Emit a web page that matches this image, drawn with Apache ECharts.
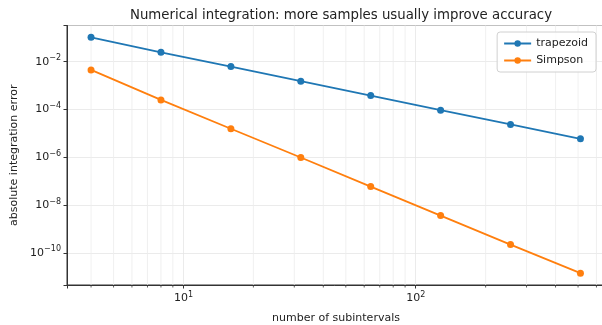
<!DOCTYPE html>
<html>
<head>
<meta charset="utf-8">
<script src="https://cdn.jsdelivr.net/npm/echarts@6/dist/echarts.min.js"></script>
<style>
  html, body { margin: 0; padding: 0; background: #fff; }
  #chart { width: 602px; height: 325px; }
</style>
</head>
<body>
<div id="chart"></div>
<script>
// data
const subintervals = [4, 8, 16, 32, 64, 128, 256, 512];
const trapezoidErr = [1.05e-1, 2.47e-2, 6.2e-3, 1.52e-3, 3.8e-4, 9.3e-5, 2.35e-5, 5.9e-6];
const simpsonErr = [4.5e-3, 2.5e-4, 1.55e-5, 9.7e-7, 5.9e-8, 3.6e-9, 2.2e-10, 1.4e-11];
// minor x ticks (log axis, 2..9 per decade)
const xMinorTicks = [4, 5, 6, 7, 8, 9, 20, 30, 40, 50, 60, 70, 80, 90, 200, 300, 400, 500, 600];

const X_MIN = Math.pow(10, 0.4985);
const X_MAX = Math.pow(10, 2.815);
const Y_MIN = Math.pow(10, -11.35);
const Y_MAX = Math.pow(10, -0.486);

const FONT = "DejaVu Sans";
const sup = (v) => {
  const e = Math.log10(v);
  if (Math.abs(e - Math.round(e)) > 1e-6) return "";
  const n = Math.round(e);
  return "10{s|" + (n < 0 ? "\u2212" + (-n) : n) + "}";
};
const rich = { s: { fontSize: 8, fontFamily: FONT, color: "#222", verticalAlign: "bottom", padding: [0, 0, 7, 0] } };

const chart = echarts.init(document.getElementById("chart"));
chart.setOption({
  animation: false,
  textStyle: { fontFamily: FONT },
  title: {
    text: "Numerical integration: more samples usually improve accuracy",
    left: 336, top: 4, textAlign: "center",
    textStyle: { fontFamily: FONT, fontSize: 13.3, fontWeight: "normal", color: "#222" },
  },
  legend: {
    data: ["trapezoid", "Simpson"],
    orient: "vertical",
    right: 6, top: 32,
    itemWidth: 27, itemHeight: 8, itemGap: 6,
    padding: [6, 8, 6, 6],
    borderColor: "#d0d0d0", borderWidth: 1, borderRadius: 3,
    backgroundColor: "rgba(255,255,255,0.85)",
    textStyle: { fontFamily: FONT, fontSize: 11, color: "#222" },
  },
  grid: {
    left: 67, top: 25.5, right: -3, bottom: 40,
    outerBoundsMode: "none",
    show: true, borderColor: "#333", borderWidth: 1,
  },
  xAxis: {
    type: "log", logBase: 10, min: X_MIN, max: X_MAX,
    name: "number of subintervals", nameLocation: "middle", nameGap: 28,
    nameTextStyle: { fontFamily: FONT, fontSize: 11, color: "#222" },
    axisLine: { lineStyle: { color: "#333" } },
    axisTick: { length: 3.5, lineStyle: { color: "#333" } },
    axisLabel: { formatter: sup, rich, fontFamily: FONT, fontSize: 11, color: "#222", margin: 6 },
    splitLine: { show: true, lineStyle: { color: "#e6e6e6", width: 0.8 } },
  },
  yAxis: {
    type: "log", logBase: 100, min: Y_MIN, max: Y_MAX,
    name: "absolute integration error", nameLocation: "middle", nameGap: 47,
    nameTextStyle: { fontFamily: FONT, fontSize: 11, color: "#222" },
    axisLine: { show: true, lineStyle: { color: "#333" } },
    axisTick: { show: true, length: 3.5, lineStyle: { color: "#333" } },
    axisLabel: { formatter: sup, rich, fontFamily: FONT, fontSize: 11, color: "#222", margin: 6 },
    splitLine: { show: true, lineStyle: { color: "#e6e6e6", width: 0.8 } },
  },
  series: [
    {
      name: "minor",
      type: "custom",
      silent: true,
      z: 1,
      data: xMinorTicks.map((x) => [x, Y_MIN]),
      renderItem: (params, api) => {
        const top = api.coord([api.value(0), Y_MAX]);
        const bot = api.coord([api.value(0), Y_MIN]);
        return {
          type: "group",
          children: [
            { type: "line", shape: { x1: top[0], y1: top[1], x2: bot[0], y2: bot[1] },
              style: { stroke: "#ececec", lineWidth: 0.8 } },
            { type: "line", shape: { x1: bot[0], y1: bot[1], x2: bot[0], y2: bot[1] + 2.5 },
              style: { stroke: "#333", lineWidth: 0.8 } },
          ],
        };
      },
    },
    {
      name: "trapezoid",
      type: "line",
      data: subintervals.map((n, i) => [n, trapezoidErr[i]]),
      symbol: "circle", symbolSize: 7,
      lineStyle: { color: "#1f77b4", width: 1.8 },
      itemStyle: { color: "#1f77b4" },
      z: 3,
    },
    {
      name: "Simpson",
      type: "line",
      data: subintervals.map((n, i) => [n, simpsonErr[i]]),
      symbol: "circle", symbolSize: 7,
      lineStyle: { color: "#ff7f0e", width: 1.8 },
      itemStyle: { color: "#ff7f0e" },
      z: 3,
    },
  ],
});
</script>
</body>
</html>
